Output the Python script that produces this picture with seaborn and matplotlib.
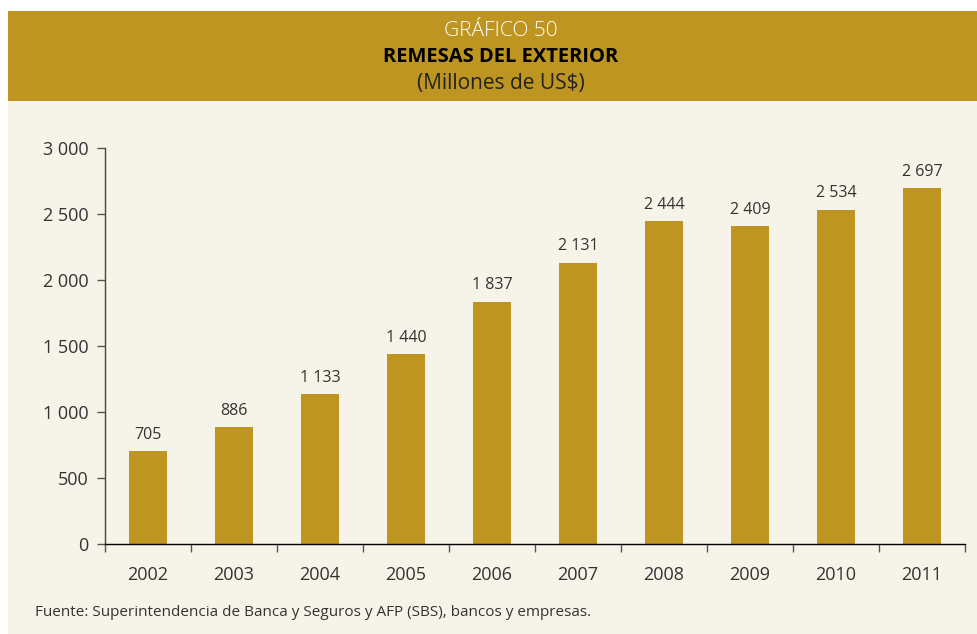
import matplotlib
matplotlib.use("Agg")
import matplotlib.pyplot as plt
import matplotlib.ticker as mticker
import seaborn as sns
import pandas as pd
from matplotlib.patches import Rectangle

# Data
years = ["2002", "2003", "2004", "2005", "2006", "2007", "2008", "2009", "2010", "2011"]
remesas = [705, 886, 1133, 1440, 1837, 2131, 2444, 2409, 2534, 2697]
yticks = [0, 500, 1000, 1500, 2000, 2500, 3000]

gold = "#BD9520"
cream = "#F6F3E8"
dark = "#333333"

sns.set_style("ticks")
plt.rcParams["font.family"] = ["Open Sans", "DejaVu Sans"]

df = pd.DataFrame({"year": years, "value": remesas})

fig = plt.figure(figsize=(9.78, 6.34), dpi=100)
fig.patch.set_facecolor("white")

# background panels
fig.patches.append(Rectangle((8 / 978, 0), 970 / 978, 1 - 101 / 634,
                             transform=fig.transFigure, facecolor=cream,
                             edgecolor="none", zorder=-5))
fig.patches.append(Rectangle((8 / 978, 1 - 101 / 634), 970 / 978, 90 / 634,
                             transform=fig.transFigure, facecolor=gold,
                             edgecolor="none", zorder=-5))

# header
fig.text(0.512, 1 - 31 / 634, "GRÁFICO 50", ha="center", va="center",
         color="white", fontsize=15, fontweight="light")
fig.text(0.512, 1 - 57 / 634, "REMESAS DEL EXTERIOR", ha="center", va="center",
         color="black", fontsize=14.5, fontweight="bold")
fig.text(0.512, 1 - 84 / 634, "(Millones de US$)", ha="center", va="center",
         color="#222222", fontsize=15)

ax = fig.add_axes([105 / 978, 1 - 544 / 634, 860 / 978, 396 / 634])
ax.set_facecolor("none")
ax.set_zorder(2)

sns.barplot(data=df, x="year", y="value", color=gold, width=0.44,
            saturation=1, linewidth=0, edgecolor="none", ax=ax, zorder=2)

fmt = lambda v: f"{v:,.0f}".replace(",", " ")
for cont in ax.containers:
    ax.bar_label(cont, labels=[fmt(v) for v in remesas], padding=6,
                 fontsize=11.5, color=dark)

ax.set_xlim(-0.5, len(years) - 0.5)
ax.set_ylim(0, 3000)
ax.set_yticks(yticks)
ax.yaxis.set_major_formatter(mticker.FuncFormatter(lambda v, p: fmt(v)))
ax.set_xlabel("")
ax.set_ylabel("")

# x ticks between categories, labels at centres
ax.set_xticks([i - 0.5 for i in range(len(years) + 1)], minor=True)
ax.tick_params(axis="x", which="major", length=0, pad=16, labelsize=13,
               labelcolor=dark)
ax.tick_params(axis="x", which="minor", length=6, width=1, color="#555555",
               direction="out")
ax.tick_params(axis="y", length=6, width=1, color="#555555", pad=6,
               labelsize=13, labelcolor=dark)

sns.despine(ax=ax, top=True, right=True)
ax.spines["left"].set_color("#444444")
ax.spines["bottom"].set_color("black")
ax.spines["left"].set_linewidth(1)
ax.spines["bottom"].set_linewidth(1)

fig.text(35 / 978, 1 - 613 / 634,
         "Fuente: Superintendencia de Banca y Seguros y AFP (SBS), bancos y empresas.",
         ha="left", va="center", fontsize=11, color=dark)

fig.savefig("out.png", dpi=100, facecolor=fig.get_facecolor())
